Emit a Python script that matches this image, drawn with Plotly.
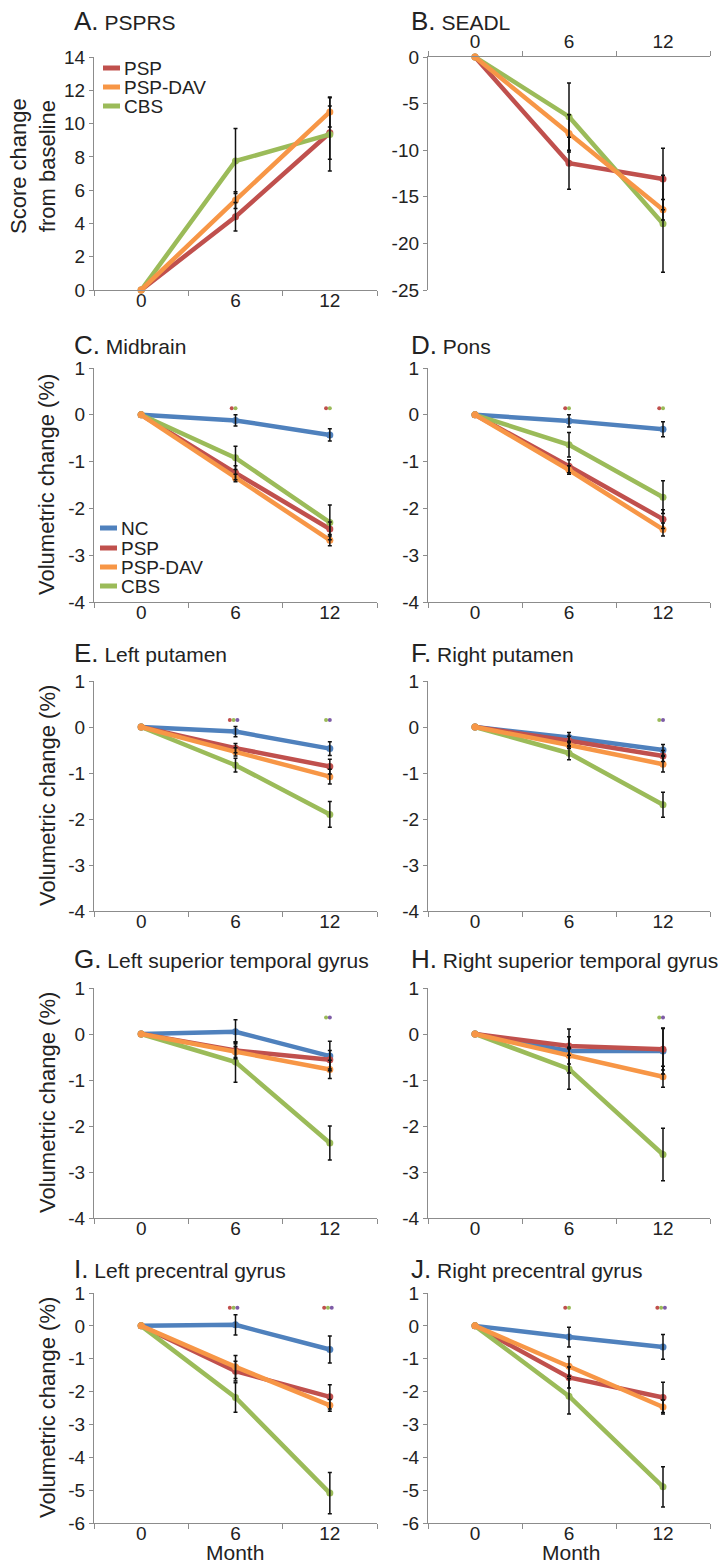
import plotly.graph_objects as go

W, H = 725, 1565
FONT = "Liberation Sans, Arial, Helvetica, sans-serif"
TXT = "#222222"
AXIS = "#8c8c8c"

# ---------------- data ----------------
months = ["0", "6", "12"]
groups = ["NC", "PSP", "PSP-DAV", "CBS"]
group_colors = {"NC": "#4F81BD", "PSP": "#C0504D", "PSP-DAV": "#F79646", "CBS": "#9BBB59"}
sig_colors = {"PSP": "#C0504D", "CBS": "#9BBB59", "CBSvsPSP": "#7E5CA6"}

# A. PSPRS (score change from baseline); sem lists are for months 6 and 12
psprs_psp = [0, 4.4, 9.45]
psprs_psp_sem = [0.85, 1.6]
psprs_dav = [0, 5.4, 10.7]
psprs_dav_sem = [0.5, 0.9]
psprs_cbs = [0, 7.75, 9.35]
psprs_cbs_sem = [1.95, 2.2]

# B. SEADL
seadl_psp = [0, -11.4, -13.1]
seadl_psp_sem = [2.8, 3.3]
seadl_dav = [0, -8.2, -16.4]
seadl_dav_sem = [2.0, 1.1]
seadl_cbs = [0, -6.4, -17.9]
seadl_cbs_sem = [3.6, 5.2]

# C. Midbrain (% volume change)
midbrain_nc = [0, -0.12, -0.43]
midbrain_nc_sem = [0.12, 0.13]
midbrain_psp = [0, -1.24, -2.44]
midbrain_psp_sem = [0.15, 0.15]
midbrain_dav = [0, -1.35, -2.68]
midbrain_dav_sem = [0.08, 0.12]
midbrain_cbs = [0, -0.92, -2.3]
midbrain_cbs_sem = [0.25, 0.37]
midbrain_sig = [["PSP", "CBS"], ["PSP", "CBS"]]

# D. Pons
pons_nc = [0, -0.13, -0.31]
pons_nc_sem = [0.13, 0.16]
pons_psp = [0, -1.1, -2.23]
pons_psp_sem = [0.14, 0.2]
pons_dav = [0, -1.18, -2.45]
pons_dav_sem = [0.09, 0.14]
pons_cbs = [0, -0.64, -1.76]
pons_cbs_sem = [0.26, 0.35]
pons_sig = [["PSP", "CBS"], ["PSP", "CBS"]]

# E. Left putamen
lput_nc = [0, -0.1, -0.47]
lput_nc_sem = [0.11, 0.15]
lput_psp = [0, -0.46, -0.86]
lput_psp_sem = [0.1, 0.16]
lput_dav = [0, -0.54, -1.08]
lput_dav_sem = [0.09, 0.16]
lput_cbs = [0, -0.83, -1.9]
lput_cbs_sem = [0.15, 0.28]
lput_sig = [["PSP", "CBS", "CBSvsPSP"], ["CBS", "CBSvsPSP"]]

# F. Right putamen
rput_nc = [0, -0.23, -0.5]
rput_nc_sem = [0.11, 0.12]
rput_psp = [0, -0.3, -0.63]
rput_psp_sem = [0.1, 0.12]
rput_dav = [0, -0.39, -0.81]
rput_dav_sem = [0.08, 0.17]
rput_cbs = [0, -0.57, -1.69]
rput_cbs_sem = [0.14, 0.27]
rput_sig = [[], ["CBS", "CBSvsPSP"]]

# G. Left superior temporal gyrus
lstg_nc = [0, 0.05, -0.48]
lstg_nc_sem = [0.26, 0.32]
lstg_psp = [0, -0.36, -0.56]
lstg_psp_sem = [0.18, 0.2]
lstg_dav = [0, -0.39, -0.77]
lstg_dav_sem = [0.12, 0.2]
lstg_cbs = [0, -0.61, -2.37]
lstg_cbs_sem = [0.44, 0.37]
lstg_sig = [[], ["CBS", "CBSvsPSP"]]

# H. Right superior temporal gyrus
rstg_nc = [0, -0.37, -0.37]
rstg_nc_sem = [0.48, 0.5]
rstg_psp = [0, -0.26, -0.33]
rstg_psp_sem = [0.2, 0.45]
rstg_dav = [0, -0.47, -0.93]
rstg_dav_sem = [0.18, 0.23]
rstg_cbs = [0, -0.76, -2.62]
rstg_cbs_sem = [0.44, 0.57]
rstg_sig = [[], ["CBS", "CBSvsPSP"]]

# I. Left precentral gyrus
lpre_nc = [0, 0.03, -0.72]
lpre_nc_sem = [0.31, 0.41]
lpre_psp = [0, -1.38, -2.16]
lpre_psp_sem = [0.3, 0.37]
lpre_dav = [0, -1.25, -2.42]
lpre_dav_sem = [0.35, 0.18]
lpre_cbs = [0, -2.18, -5.09]
lpre_cbs_sem = [0.45, 0.63]
lpre_sig = [["PSP", "CBS", "CBSvsPSP"], ["PSP", "CBS", "CBSvsPSP"]]

# J. Right precentral gyrus
rpre_nc = [0, -0.34, -0.64]
rpre_nc_sem = [0.3, 0.38]
rpre_psp = [0, -1.57, -2.18]
rpre_psp_sem = [0.32, 0.46]
rpre_dav = [0, -1.23, -2.47]
rpre_dav_sem = [0.3, 0.21]
rpre_cbs = [0, -2.14, -4.9]
rpre_cbs_sem = [0.54, 0.61]
rpre_sig = [["PSP", "CBS"], ["PSP", "CBS", "CBSvsPSP"]]

# y tick values
ticks_psprs = [0, 2, 4, 6, 8, 10, 12, 14]
ticks_seadl = [0, -5, -10, -15, -20, -25]
ticks_vol = [1, 0, -1, -2, -3, -4]
ticks_vol_wide = [1, 0, -1, -2, -3, -4, -5, -6]

# level (in data units) of significance dots per row
sig_level_rows = [None, 0.14, 0.15, 0.36, 0.55]

# ---------------- panels ----------------
panels = [
    dict(letter="A", name="PSPRS", ticks=ticks_psprs, top=False, sig=None,
         series={"PSP": (psprs_psp, psprs_psp_sem), "PSP-DAV": (psprs_dav, psprs_dav_sem),
                 "CBS": (psprs_cbs, psprs_cbs_sem)}),
    dict(letter="B", name="SEADL", ticks=ticks_seadl, top=True, sig=None,
         series={"PSP": (seadl_psp, seadl_psp_sem), "PSP-DAV": (seadl_dav, seadl_dav_sem),
                 "CBS": (seadl_cbs, seadl_cbs_sem)}),
    dict(letter="C", name="Midbrain", ticks=ticks_vol, top=False, sig=midbrain_sig,
         series={"NC": (midbrain_nc, midbrain_nc_sem), "PSP": (midbrain_psp, midbrain_psp_sem),
                 "PSP-DAV": (midbrain_dav, midbrain_dav_sem), "CBS": (midbrain_cbs, midbrain_cbs_sem)}),
    dict(letter="D", name="Pons", ticks=ticks_vol, top=False, sig=pons_sig,
         series={"NC": (pons_nc, pons_nc_sem), "PSP": (pons_psp, pons_psp_sem),
                 "PSP-DAV": (pons_dav, pons_dav_sem), "CBS": (pons_cbs, pons_cbs_sem)}),
    dict(letter="E", name="Left putamen", ticks=ticks_vol, top=False, sig=lput_sig,
         series={"NC": (lput_nc, lput_nc_sem), "PSP": (lput_psp, lput_psp_sem),
                 "PSP-DAV": (lput_dav, lput_dav_sem), "CBS": (lput_cbs, lput_cbs_sem)}),
    dict(letter="F", name="Right putamen", ticks=ticks_vol, top=False, sig=rput_sig,
         series={"NC": (rput_nc, rput_nc_sem), "PSP": (rput_psp, rput_psp_sem),
                 "PSP-DAV": (rput_dav, rput_dav_sem), "CBS": (rput_cbs, rput_cbs_sem)}),
    dict(letter="G", name="Left superior temporal gyrus", ticks=ticks_vol, top=False, sig=lstg_sig,
         series={"NC": (lstg_nc, lstg_nc_sem), "PSP": (lstg_psp, lstg_psp_sem),
                 "PSP-DAV": (lstg_dav, lstg_dav_sem), "CBS": (lstg_cbs, lstg_cbs_sem)}),
    dict(letter="H", name="Right superior temporal gyrus", ticks=ticks_vol, top=False, sig=rstg_sig,
         series={"NC": (rstg_nc, rstg_nc_sem), "PSP": (rstg_psp, rstg_psp_sem),
                 "PSP-DAV": (rstg_dav, rstg_dav_sem), "CBS": (rstg_cbs, rstg_cbs_sem)}),
    dict(letter="I", name="Left precentral gyrus", ticks=ticks_vol_wide, top=False, sig=lpre_sig,
         series={"NC": (lpre_nc, lpre_nc_sem), "PSP": (lpre_psp, lpre_psp_sem),
                 "PSP-DAV": (lpre_dav, lpre_dav_sem), "CBS": (lpre_cbs, lpre_cbs_sem)}),
    dict(letter="J", name="Right precentral gyrus", ticks=ticks_vol_wide, top=False, sig=rpre_sig,
         series={"NC": (rpre_nc, rpre_nc_sem), "PSP": (rpre_psp, rpre_psp_sem),
                 "PSP-DAV": (rpre_dav, rpre_dav_sem), "CBS": (rpre_cbs, rpre_cbs_sem)}),
]

draw_order = ["NC", "PSP", "CBS", "PSP-DAV"]

# ---------------- layout geometry (pixels) ----------------
col_x = [(94, 377), (428, 710)]
row_y = [(57, 290), (368, 602), (681, 911), (988, 1218), (1293, 1523)]
title_x = [72, 409]
title_y = [21, 345, 653, 959, 1269]


def px(x):
    return x / W


def py(y):
    return 1 - y / H


fig = go.Figure()
layout = dict(
    template="none",
    width=W, height=H, autosize=False,
    margin=dict(l=0, r=0, t=0, b=0, pad=0, autoexpand=False),
    paper_bgcolor="white", plot_bgcolor="white",
    showlegend=False,
    font=dict(family=FONT, color=TXT),
)
annotations = []
shapes = []

idx = [0, 1, 2]

for i, p in enumerate(panels):
    k = i + 1
    row, col = divmod(i, 2)
    xname = "x" if k == 1 else f"x{k}"
    yname = "y" if k == 1 else f"y{k}"
    x0, x1 = col_x[col]
    y0, y1 = row_y[row]

    # lines with markers
    for g in draw_order:
        if g not in p["series"]:
            continue
        vals, _ = p["series"][g]
        fig.add_trace(go.Scatter(
            x=idx, y=vals, mode="lines+markers", xaxis=xname, yaxis=yname,
            line=dict(color=group_colors[g], width=4.5),
            marker=dict(color=group_colors[g], size=7),
            hoverinfo="skip", cliponaxis=False))
    # error bars on top
    for g in draw_order:
        if g not in p["series"]:
            continue
        vals, sem = p["series"][g]
        fig.add_trace(go.Scatter(
            x=idx[1:], y=vals[1:], mode="markers", xaxis=xname, yaxis=yname,
            marker=dict(color="rgba(0,0,0,0)", size=1),
            error_y=dict(type="data", array=sem, visible=True, color="#111111",
                         thickness=1.5, width=2),
            hoverinfo="skip", cliponaxis=False))
    # significance dots
    if p["sig"]:
        sx, sy, sc = [], [], []
        for m, marks in enumerate(p["sig"]):
            n = len(marks)
            for j, mk in enumerate(marks):
                sx.append(idx[m + 1] - 0.02 + (j - (n - 1) / 2) * 0.04)
                sy.append(sig_level_rows[row])
                sc.append(sig_colors[mk])
        fig.add_trace(go.Scatter(
            x=sx, y=sy, mode="markers", xaxis=xname, yaxis=yname,
            marker=dict(color=sc, size=4, line=dict(width=0)),
            hoverinfo="skip", cliponaxis=False))

    ticks = p["ticks"]
    layout[f"xaxis{'' if k == 1 else k}"] = dict(
        domain=[px(x0), px(x1)], range=[-0.5, 2.5], anchor=yname,
        automargin=False,
        tickmode="array", tickvals=idx, ticktext=months, ticks="",
        side="top" if p["top"] else "bottom",
        ticklabelstandoff=0 if p["top"] else -7,
        showline=True, linecolor=AXIS, linewidth=1.3,
        showgrid=False, zeroline=False, fixedrange=True,
        tickfont=dict(size=19, color=TXT, family=FONT),
        minor=dict(tickvals=[-0.5, 0.5, 1.5, 2.5], ticks="outside", ticklen=5,
                   tickcolor=AXIS, tickwidth=1.3, showgrid=False),
    )
    layout[f"yaxis{'' if k == 1 else k}"] = dict(
        domain=[py(y1), py(y0)], range=[min(ticks), max(ticks)], anchor=xname,
        automargin=False,
        tickmode="array", tickvals=ticks, ticktext=[str(t) for t in ticks],
        ticks="outside", ticklen=4, tickcolor=AXIS, tickwidth=1.3,
        showline=True, linecolor=AXIS, linewidth=1.3,
        showgrid=False, zeroline=False, fixedrange=True,
        tickfont=dict(size=19, color=TXT, family=FONT),
    )

    # panel title
    annotations.append(dict(
        xref="paper", yref="paper", x=px(title_x[col]), y=py(title_y[row]),
        xanchor="left", yanchor="middle", showarrow=False,
        text=f'<span style="font-size:26px">{p["letter"]}.</span> {p["name"]}',
        font=dict(size=21, color=TXT, family=FONT)))

    # y-axis titles (left column)
    if col == 0:
        if row == 0:
            annotations.append(dict(
                xref="paper", yref="paper", x=px(33), y=py(166),
                xanchor="center", yanchor="middle", showarrow=False, textangle=-90,
                text="Score change<br>from baseline",
                font=dict(size=22, color=TXT, family=FONT)))
        else:
            annotations.append(dict(
                xref="paper", yref="paper", x=px(47), y=py((y0 + y1) / 2),
                xanchor="center", yanchor="middle", showarrow=False, textangle=-90,
                text="Volumetric change (%)",
                font=dict(size=22, color=TXT, family=FONT)))

# "Month" labels
for cx in (235, 571):
    annotations.append(dict(
        xref="paper", yref="paper", x=px(cx), y=py(1552),
        xanchor="center", yanchor="middle", showarrow=False, text="Month",
        font=dict(size=21, color=TXT, family=FONT)))

# legends (manual)
legend_specs = [
    (["PSP", "PSP-DAV", "CBS"], [68, 87, 106], 103, 120, 122),
    (["NC", "PSP", "PSP-DAV", "CBS"], [528, 548, 567, 586], 100, 117, 119),
]
for names, ys, lx0, lx1, tx in legend_specs:
    for g, yy in zip(names, ys):
        shapes.append(dict(type="line", xref="paper", yref="paper",
                           x0=px(lx0), x1=px(lx1), y0=py(yy), y1=py(yy),
                           line=dict(color=group_colors[g], width=5)))
        annotations.append(dict(
            xref="paper", yref="paper", x=px(tx), y=py(yy),
            xanchor="left", yanchor="middle", showarrow=False, text=g,
            font=dict(size=19, color=TXT, family=FONT)))

layout["annotations"] = annotations
layout["shapes"] = shapes
fig.update_layout(**layout)
fig.write_html(
    "out.html",
    config={"displayModeBar": False},
    post_script="document.body.style.margin='0';document.body.style.padding='0';"
                "document.body.style.overflow='hidden';",
)
